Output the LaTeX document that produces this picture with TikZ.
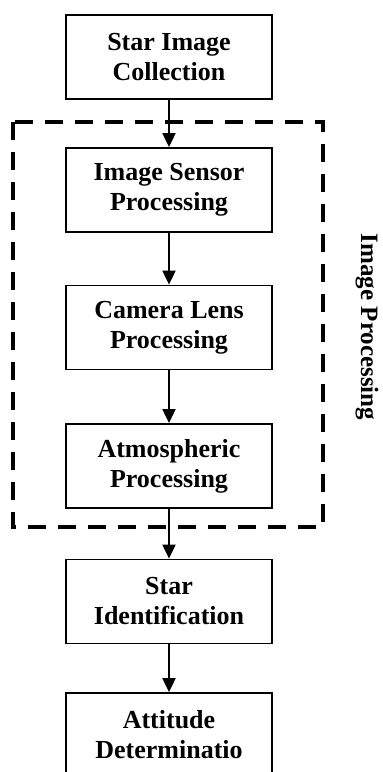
\documentclass[tikz,border=0pt]{standalone}
\usepackage{fontspec}
\setmainfont{Liberation Serif}
\usetikzlibrary{arrows.meta}
\begin{document}
\begin{tikzpicture}[x=1pt,y=-1pt,
  stage/.style={draw, line width=1.8pt, minimum width=206pt, minimum height=84pt,
    align=center, inner sep=0pt, font=\fontsize{26}{30}\selectfont\bfseries},
  flow/.style={-{Triangle[length=14pt,width=13pt]}, line width=2pt},
  groupframe/.style={line width=4pt, dash pattern=on 18pt off 12pt},
  grouplabel/.style={font=\fontsize{25}{30}\selectfont\bfseries, rotate=-90, inner sep=0pt}]
  \useasboundingbox (0,0) rectangle (383,772);
  \clip (0,0) rectangle (383,772);

  % processing chain
  \node[stage] (collect) at (169,57)  {Star Image\\Collection};
  \node[stage] (sensor)  at (169,190) {Image Sensor\\Processing};
  \node[stage] (lens)    at (169,327.5) {Camera Lens\\Processing};
  \node[stage] (atmos)   at (169,466) {Atmospheric\\Processing};
  \node[stage] (ident)   at (169,601.5) {Star\\Identification};
  \node[stage] (att)     at (169,735) {Attitude\\Determinatio};

  % image processing group
  \draw[groupframe] (13,122) rectangle (323,527);
  \node[grouplabel] (grp) at (367,327) {Image Processing};

  % connectors
  \draw[flow] (collect) -- (sensor);
  \draw[flow] (sensor) -- (lens);
  \draw[flow] (lens) -- (atmos);
  \draw[flow] (atmos) -- (ident);
  \draw[flow] (ident) -- (att);
\end{tikzpicture}
\end{document}
